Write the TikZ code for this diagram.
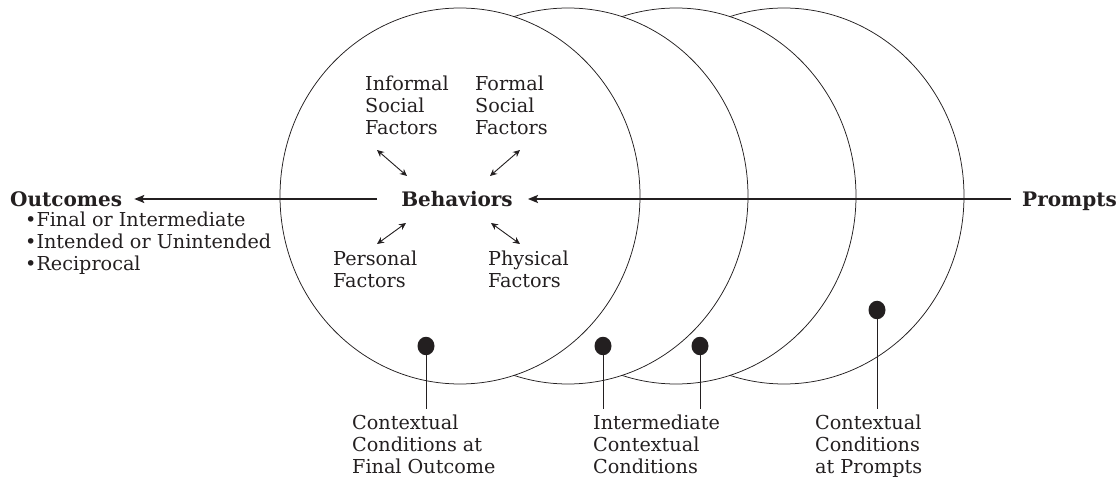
\documentclass[tikz,border=0pt]{standalone}
\usepackage{fontspec}
\setmainfont{DejaVu Serif}
\usetikzlibrary{arrows.meta,shapes.geometric}
\definecolor{ink}{HTML}{231F20}
\begin{document}
\begin{tikzpicture}[x=1pt,y=-1pt]
\tikzset{
  ell/.style={draw=ink, line width=0.75pt, fill=white},
  lbl/.style={font=\fontsize{19.2}{21.7}\selectfont, align=left, inner sep=0pt, anchor=north west, text=ink},
  bold/.style={font=\fontsize{20}{21.7}\selectfont\bfseries, inner sep=0pt, text depth=0pt, text=ink},
  mainarrow/.style={draw=ink, line width=1.8pt, -{Stealth[length=10pt,width=8pt,inset=2pt]}},
  dblarrow/.style={draw=ink, line width=0.9pt, {Stealth[length=7pt,width=6.5pt]}-{Stealth[length=7pt,width=6.5pt]}},
  blob/.style={ellipse, fill=ink, minimum width=17pt, minimum height=18.5pt, inner sep=0pt},
  pin/.style={draw=ink, line width=0.8pt}
}
\useasboundingbox (0,0) rectangle (1120,481);
% ellipses, back to front
\draw[ell] (784,196) ellipse [x radius=180, y radius=188];
\draw[ell] (676,196) ellipse [x radius=180, y radius=188];
\draw[ell] (568,196) ellipse [x radius=180, y radius=188];
\draw[ell] (460,196) ellipse [x radius=180, y radius=188];

% main nodes
\node[bold] (beh) at (457,199) {Behaviors};
\node[bold, anchor=west] (out) at (10,199) {Outcomes};
\node[bold, anchor=east] (pro) at (1117,199) {Prompts};
\node[lbl] (list) at (25,212) {\textbullet Final or Intermediate\\\textbullet Intended or Unintended\\\textbullet Reciprocal};

\draw[mainarrow, shorten <=24pt, shorten >=12pt] (beh.west) -- (out.east);
\draw[mainarrow, shorten <=11pt, shorten >=15pt] (pro.west) -- (beh.east);

% factors
\node[lbl] (inf) at (365,76) {Informal\\Social\\Factors};
\node[lbl] (for) at (475,76) {Formal\\Social\\Factors};
\node[lbl] (per) at (333,251) {Personal\\Factors};
\node[lbl] (phy) at (488,251) {Physical\\Factors};

\coordinate (a1) at (377,150); \coordinate (b1) at (407,176);
\coordinate (a2) at (520,150); \coordinate (b2) at (490,176);
\coordinate (a3) at (377,244); \coordinate (b3) at (406,223);
\coordinate (a4) at (520,244); \coordinate (b4) at (491,223);
\draw[dblarrow] (a1) -- (b1);
\draw[dblarrow] (a2) -- (b2);
\draw[dblarrow] (a3) -- (b3);
\draw[dblarrow] (a4) -- (b4);

% contextual conditions
\node[blob] (d1) at (426,346) {};
\node[blob] (d2) at (603,346) {};
\node[blob] (d3) at (700,346) {};
\node[blob] (d4) at (877,310) {};
\node[lbl] (c1) at (352,415) {Contextual\\Conditions at\\Final Outcome};
\node[lbl] (c2) at (593,415) {Intermediate\\Contextual\\Conditions};
\node[lbl] (c3) at (815,415) {Contextual\\Conditions\\at Prompts};
\draw[pin, shorten >=6pt] (d1) -- (d1 |- c1.north);
\draw[pin, shorten >=6pt] (d2) -- (d2 |- c2.north);
\draw[pin, shorten >=6pt] (d3) -- (d3 |- c2.north);
\draw[pin, shorten >=6pt] (d4) -- (d4 |- c3.north);
\end{tikzpicture}
\end{document}
